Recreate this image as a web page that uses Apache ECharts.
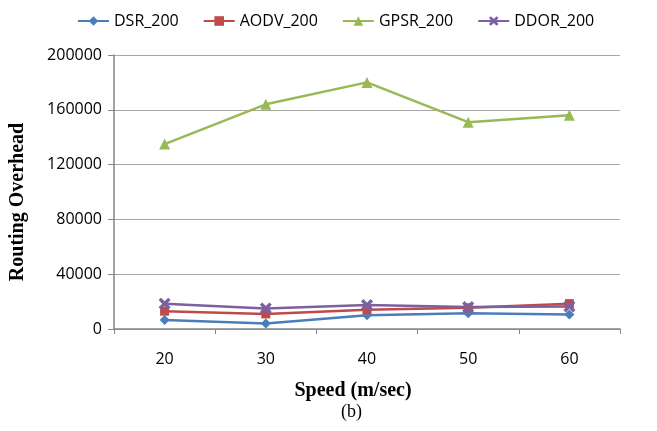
<!DOCTYPE html>
<html>
<head>
<meta charset="utf-8">
<script src="https://cdn.jsdelivr.net/npm/echarts@6/dist/echarts.min.js"></script>
<style>
  html, body { margin: 0; padding: 0; background: #fff; }
  #chart { width: 657px; height: 431px; }
</style>
</head>
<body>
<div id="chart"></div>
<script>
  // speed categories (m/sec)
  const speeds = ['20', '30', '40', '50', '60']
  const dsr = [6500, 4000, 10000, 11500, 10500]
  const aodv = [13000, 11000, 14000, 15500, 18500]
  const gpsr = [135000, 164000, 180000, 151000, 156000]
  const ddor = [18500, 15000, 17500, 16000, 16500]
  const yTicks = [0, 40000, 80000, 120000, 160000, 200000]

  const xMark = 'path://M2,0L5,3L8,0L10,2L7,5L10,8L8,10L5,7L2,10L0,8L3,5L0,2Z'
  const sans = '"Open Sans", sans-serif'
  const serif = '"Liberation Serif", "Times New Roman", serif'

  function line(name, data, color, symbol, size) {
    return {
      name: name,
      type: 'line',
      data: data,
      symbol: symbol,
      symbolSize: size,
      lineStyle: { color: color, width: 2.5 },
      itemStyle: { color: color },
      animation: false
    }
  }

  const chart = echarts.init(document.getElementById('chart'))
  chart.setOption({
    backgroundColor: '#fff',
    grid: { left: 112, right: 37, top: 55, bottom: 102 },
    legend: {
      left: 72,
      top: 8,
      itemWidth: 31,
      itemHeight: 12,
      itemGap: 24,
      textStyle: { fontFamily: sans, fontSize: 16, color: '#000' }
    },
    xAxis: {
      type: 'category',
      data: speeds,
      boundaryGap: true,
      axisLine: { lineStyle: { color: '#868686', width: 1.5 } },
      axisTick: { show: true, length: 5, lineStyle: { color: '#868686' } },
      axisLabel: { margin: 22, fontFamily: sans, fontSize: 16, color: '#000' },
      name: 'Speed (m/sec)',
      nameLocation: 'middle',
      nameGap: 52,
      nameTextStyle: { fontFamily: serif, fontWeight: 'bold', fontSize: 20, color: '#000', padding: [0, 28, 0, 0] }
    },
    yAxis: {
      type: 'value',
      min: yTicks[0],
      max: yTicks[yTicks.length - 1],
      interval: 40000,
      axisLine: { show: true, lineStyle: { color: '#868686', width: 1.5 } },
      axisTick: { show: true, length: 6, lineStyle: { color: '#868686' } },
      axisLabel: { margin: 12, fontFamily: sans, fontSize: 16, color: '#000', formatter: v => String(v) },
      splitLine: { lineStyle: { color: '#a6a6a6', width: 1.2 } },
      name: 'Routing Overhead',
      nameLocation: 'middle',
      nameGap: 86,
      nameTextStyle: { fontFamily: serif, fontWeight: 'bold', fontSize: 20, color: '#000', padding: [0, 0, 0, -20] }
    },
    series: [
      line('DSR_200', dsr, '#4a7ebb', 'diamond', 10),
      line('AODV_200', aodv, '#be4b48', 'rect', 9),
      line('GPSR_200', gpsr, '#98b954', 'triangle', 11),
      line('DDOR_200', ddor, '#7d60a0', xMark, 12)
    ],
    graphic: [{
      type: 'text',
      x: 341,
      y: 403,
      style: { text: '(b)', font: '18px ' + serif, fill: '#000' }
    }]
  })
</script>
</body>
</html>
